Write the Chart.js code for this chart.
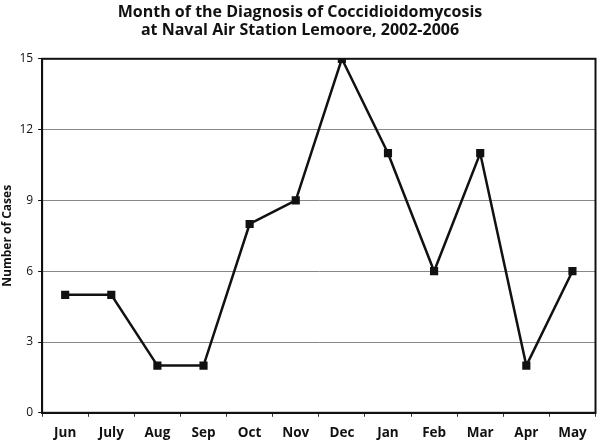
<!DOCTYPE html>
<html>
<head>
<meta charset="utf-8">
<script src="https://cdn.jsdelivr.net/npm/chart.js@4"></script>
<style>
  html, body { margin: 0; padding: 0; background: #fff; }
  #wrap { width: 602px; height: 442px; }
</style>
</head>
<body>
<div id="wrap"><canvas id="myChart"></canvas></div>
<script>
var months = ["Jun", "July", "Aug", "Sep", "Oct", "Nov", "Dec", "Jan", "Feb", "Mar", "Apr", "May"];
var cases = [5, 5, 2, 2, 8, 9, 15, 11, 6, 11, 2, 6];
var yTicks = [0, 3, 6, 9, 12, 15];

// black frame round the plot area
var frame = {
    id: 'frame',
    afterDraw: function(chart) {
        var a = chart.chartArea, c = chart.ctx;
        c.save();
        c.strokeStyle = '#111';
        c.lineWidth = 2;
        c.strokeRect(a.left, a.top, a.right - a.left, a.bottom - a.top);
        c.restore();
    }
};

var ctx = document.getElementById("myChart");

var myChart = new Chart(ctx, {
    type: 'line',
    data: {
        labels: months,
        datasets: [{
            data: cases,
            borderColor: '#111',
            borderWidth: 2.5,
            pointStyle: 'rect',
            pointRadius: 4,
            pointBackgroundColor: '#111',
            pointBorderColor: '#111',
            tension: 0
        }]
    },
    options: {
        responsive: true,
        maintainAspectRatio: false,
        animation: false,
        layout: { padding: { top: 0, right: 2, bottom: -7, left: 0 } },
        plugins: {
            legend: { display: false },
            tooltip: { enabled: false },
            title: {
                display: true,
                text: ['Month of the Diagnosis of Coccidioidomycosis', 'at Naval Air Station Lemoore, 2002-2006'],
                color: '#111',
                font: { family: "'Open Sans', sans-serif", size: 16, weight: 'bold', lineHeight: 1.15 },
                padding: { top: 3, bottom: 19 }
            }
        },
        scales: {
            x: {
                offset: true,
                grid: {
                    offset: true,
                    drawOnChartArea: false,
                    tickLength: 4,
                    color: '#333'
                },
                border: { color: '#111', width: 2 },
                ticks: {
                    color: '#111',
                    padding: 8,
                    font: { family: "'Open Sans', sans-serif", size: 13.5, weight: 'bold' }
                }
            },
            y: {
                min: 0,
                max: 15,
                afterBuildTicks: function(scale) {
                    scale.ticks = yTicks.map(function(v) { return { value: v }; });
                },
                grid: {
                    color: '#888',
                    lineWidth: 1,
                    tickLength: 4,
                    tickColor: '#111'
                },
                border: { color: '#111', width: 2 },
                ticks: {
                    color: '#111',
                    padding: 5,
                    font: { family: "'Open Sans', sans-serif", size: 12 }
                },
                title: {
                    display: true,
                    text: 'Number of Cases',
                    color: '#111',
                    padding: { top: 0, bottom: 0 },
                    font: { family: "'Open Sans', sans-serif", size: 12, weight: 'bold' }
                }
            }
        }
    },
    plugins: [frame]
});
</script>
</body>
</html>
